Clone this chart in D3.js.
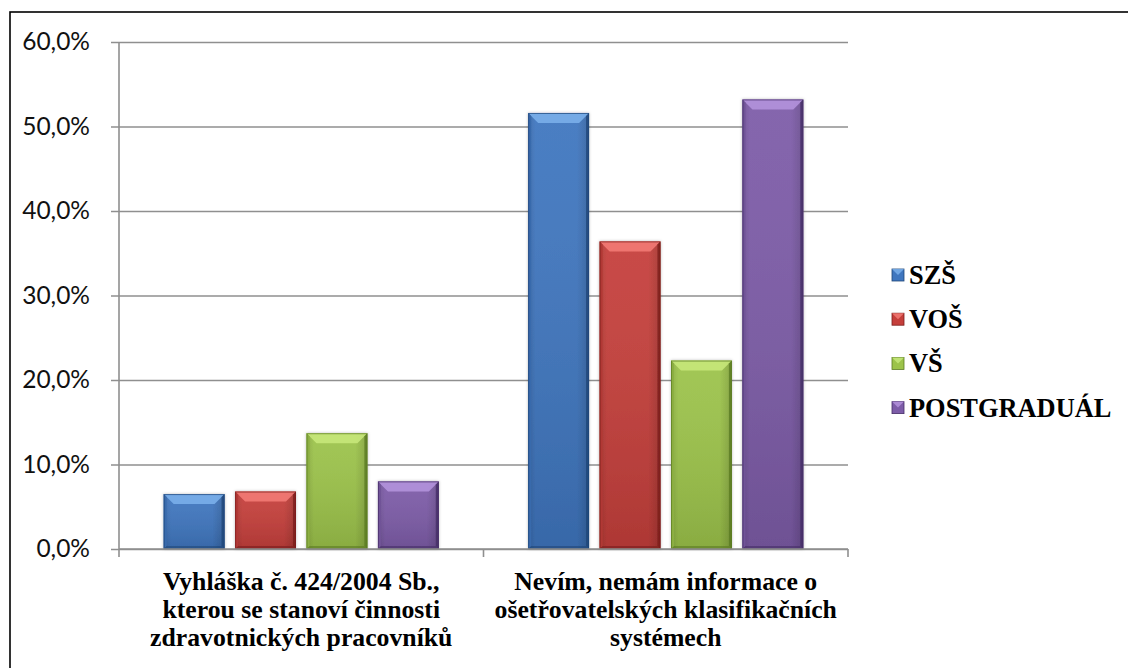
<!DOCTYPE html>
<html>
<head>
<meta charset="utf-8">
<script src="https://cdn.jsdelivr.net/npm/d3@7"></script>
<style>
  html, body { margin: 0; padding: 0; background: #fff; }
  svg { display: block; }
</style>
</head>
<body>
<svg id="chart" width="1128" height="668"></svg>
<script>
// Categories (label lines as they are wrapped under the axis)
const categories = ["cat1", "cat2"];
const categoryLines = [
  ["Vyhláška č. 424/2004 Sb.,", "kterou se stanoví činnosti", "zdravotnických pracovníků"],
  ["Nevím, nemám informace o", "ošetřovatelských klasifikačních", "systémech"]
];
const series = ["SZŠ", "VOŠ", "VŠ", "POSTGRADUÁL"];

// Percent values per series, one per category
const szsValues  = [6.5, 51.6];
const vosValues  = [6.8, 36.4];
const vsValues   = [13.7, 22.3];
const postValues = [8.0, 53.2];
const yTickValues = [0, 10, 20, 30, 40, 50, 60];

const seriesValues = [szsValues, vosValues, vsValues, postValues];
const palette = [
  { base: "#3f76bf", light: "#79afea", dark: "#1f4678" },
  { base: "#c53f3b", light: "#f27a74", dark: "#7a1e1c" },
  { base: "#9cc34a", light: "#c6e77a", dark: "#5a7a22" },
  { base: "#7d5ca8", light: "#b392dc", dark: "#452d66" }
];

const svg = d3.select("#chart");
const plot = { left: 119, right: 848, top: 42, bottom: 549 };

const y = d3.scaleLinear().domain([0, 60]).range([plot.bottom, plot.top]);
const x0 = d3.scaleBand().domain(categories).range([plot.left, plot.right]).paddingInner(0).paddingOuter(0);
const groupPad = 44.7;
const x1 = d3.scaleBand().domain(series)
  .range([groupPad, x0.bandwidth() - groupPad])
  .paddingInner(0.148).paddingOuter(0);

// Outer frame (right and bottom edges run off the canvas)
svg.append("rect")
  .attr("x", 10).attr("y", 12)
  .attr("width", 1130).attr("height", 670)
  .attr("fill", "none").attr("stroke", "#000").attr("stroke-width", 1.6);

// Gradients for the bevelled bars
const defs = svg.append("defs");
palette.forEach((c, i) => {
  const g = defs.append("linearGradient").attr("id", "body" + i)
    .attr("x1", 0).attr("y1", 0).attr("x2", 1).attr("y2", 0);
  g.append("stop").attr("offset", "0%").attr("stop-color", d3.color(c.base).darker(0.35));
  g.append("stop").attr("offset", "12%").attr("stop-color", c.base);
  g.append("stop").attr("offset", "80%").attr("stop-color", c.base);
  g.append("stop").attr("offset", "100%").attr("stop-color", d3.color(c.base).darker(0.5));
  const v = defs.append("linearGradient").attr("id", "shade" + i)
    .attr("x1", 0).attr("y1", 0).attr("x2", 0).attr("y2", 1);
  v.append("stop").attr("offset", "0%").attr("stop-color", "#fff").attr("stop-opacity", 0.06);
  v.append("stop").attr("offset", "100%").attr("stop-color", "#000").attr("stop-opacity", 0.12);
});
const shadow = defs.append("filter").attr("id", "barShadow")
  .attr("x", "-20%").attr("y", "-10%").attr("width", "140%").attr("height", "120%");
shadow.append("feDropShadow").attr("dx", 0).attr("dy", 0).attr("stdDeviation", 1.6)
  .attr("flood-color", "#000").attr("flood-opacity", 0.25);

// Y axis with gridlines and value labels
const yAxis = d3.axisLeft(y)
  .tickValues(yTickValues)
  .tickSize(plot.right - plot.left + 8)
  .tickPadding(21)
  .tickFormat(d => d.toFixed(1).replace(".", ",") + "%");
const yg = svg.append("g").attr("transform", `translate(${plot.right},0)`).call(yAxis);
yg.select(".domain").remove();
yg.selectAll(".tick line").attr("stroke", "#8f8f8f").attr("stroke-width", 1.6);
yg.selectAll(".tick text")
  .attr("fill", "#111")
  .style("font-family", "Lato, 'Open Sans', sans-serif")
  .style("font-size", "24.5px");

// Vertical axis line
svg.append("line")
  .attr("x1", plot.left).attr("x2", plot.left)
  .attr("y1", plot.top).attr("y2", plot.bottom)
  .attr("stroke", "#8f8f8f").attr("stroke-width", 1.6);

// Bars
const barLayer = svg.append("g");
categories.forEach((cat, ci) => {
  series.forEach((s, si) => {
    const v = seriesValues[si][ci];
    const bx = x0(cat) + x1(s);
    const bw = x1.bandwidth();
    const by = y(v);
    const bh = y(0) - by;
    const c = palette[si];
    const g = barLayer.append("g").attr("filter", "url(#barShadow)");
    g.append("rect").attr("x", bx).attr("y", by).attr("width", bw).attr("height", bh)
      .attr("fill", `url(#body${si})`);
    g.append("rect").attr("x", bx).attr("y", by).attr("width", bw).attr("height", bh)
      .attr("fill", `url(#shade${si})`);
    const b = Math.min(10, bh / 2);
    const sb = 3;
    // top bevel
    g.append("path")
      .attr("d", `M${bx},${by} L${bx + bw},${by} L${bx + bw - b},${by + b} L${bx + b},${by + b} Z`)
      .attr("fill", c.light).attr("opacity", 0.9);
    // left bevel
    g.append("path")
      .attr("d", `M${bx},${by} L${bx + sb},${by + sb} L${bx + sb},${by + bh - sb} L${bx},${by + bh} Z`)
      .attr("fill", d3.color(c.base).darker(0.3));
    // right bevel
    g.append("path")
      .attr("d", `M${bx + bw},${by} L${bx + bw - sb},${by + sb} L${bx + bw - sb},${by + bh - sb} L${bx + bw},${by + bh} Z`)
      .attr("fill", c.dark).attr("opacity", 0.8);
    // bottom bevel
    g.append("path")
      .attr("d", `M${bx},${by + bh} L${bx + sb},${by + bh - sb} L${bx + bw - sb},${by + bh - sb} L${bx + bw},${by + bh} Z`)
      .attr("fill", c.dark).attr("opacity", 0.6);
    g.append("rect").attr("x", bx + 0.5).attr("y", by + 0.5).attr("width", bw - 1).attr("height", bh - 1)
      .attr("fill", "none").attr("stroke", c.dark).attr("stroke-width", 1).attr("opacity", 0.7);
  });
});

// Horizontal axis with boundary ticks
const xBoundaries = categories.map(c => x0(c)).concat([x0(categories[categories.length - 1]) + x0.bandwidth()]);
svg.append("line")
  .attr("x1", plot.left).attr("x2", plot.right)
  .attr("y1", plot.bottom).attr("y2", plot.bottom)
  .attr("stroke", "#8f8f8f").attr("stroke-width", 1.6);
svg.selectAll(".xtick").data(xBoundaries).enter().append("line")
  .attr("x1", d => d).attr("x2", d => d)
  .attr("y1", plot.bottom).attr("y2", plot.bottom + 8)
  .attr("stroke", "#8f8f8f").attr("stroke-width", 1.6);

// Category labels (bold serif, three lines each)
categories.forEach((cat, ci) => {
  const cx = x0(cat) + x0.bandwidth() / 2;
  const g = svg.append("g").attr("transform", `translate(${cx},0) scale(1.03,1)`);
  categoryLines[ci].forEach((line, li) => {
    g.append("text")
      .attr("x", 0).attr("y", 590 + li * 28)
      .attr("text-anchor", "middle")
      .style("font-family", "'Liberation Serif', 'Times New Roman', serif")
      .style("font-weight", "bold")
      .style("font-size", "25px")
      .attr("fill", "#000")
      .text(line);
  });
});

// Legend
const legend = svg.append("g");
series.forEach((s, si) => {
  const cy = 275 + si * 44.2;
  const c = palette[si];
  const sq = 12;
  const lx = 892;
  legend.append("rect").attr("x", lx).attr("y", cy - sq / 2).attr("width", sq).attr("height", sq)
    .attr("fill", c.base).attr("stroke", c.dark).attr("stroke-width", 0.8);
  legend.append("path")
    .attr("d", `M${lx},${cy - sq / 2} L${lx + sq},${cy - sq / 2} L${lx + sq / 2},${cy} Z`)
    .attr("fill", c.light).attr("opacity", 0.85);
  legend.append("text")
    .attr("x", 909).attr("y", cy + 9)
    .style("font-family", "'Liberation Serif', 'Times New Roman', serif")
    .style("font-weight", "bold")
    .style("font-size", "26.4px")
    .attr("fill", "#000")
    .text(s);
});
</script>
</body>
</html>
